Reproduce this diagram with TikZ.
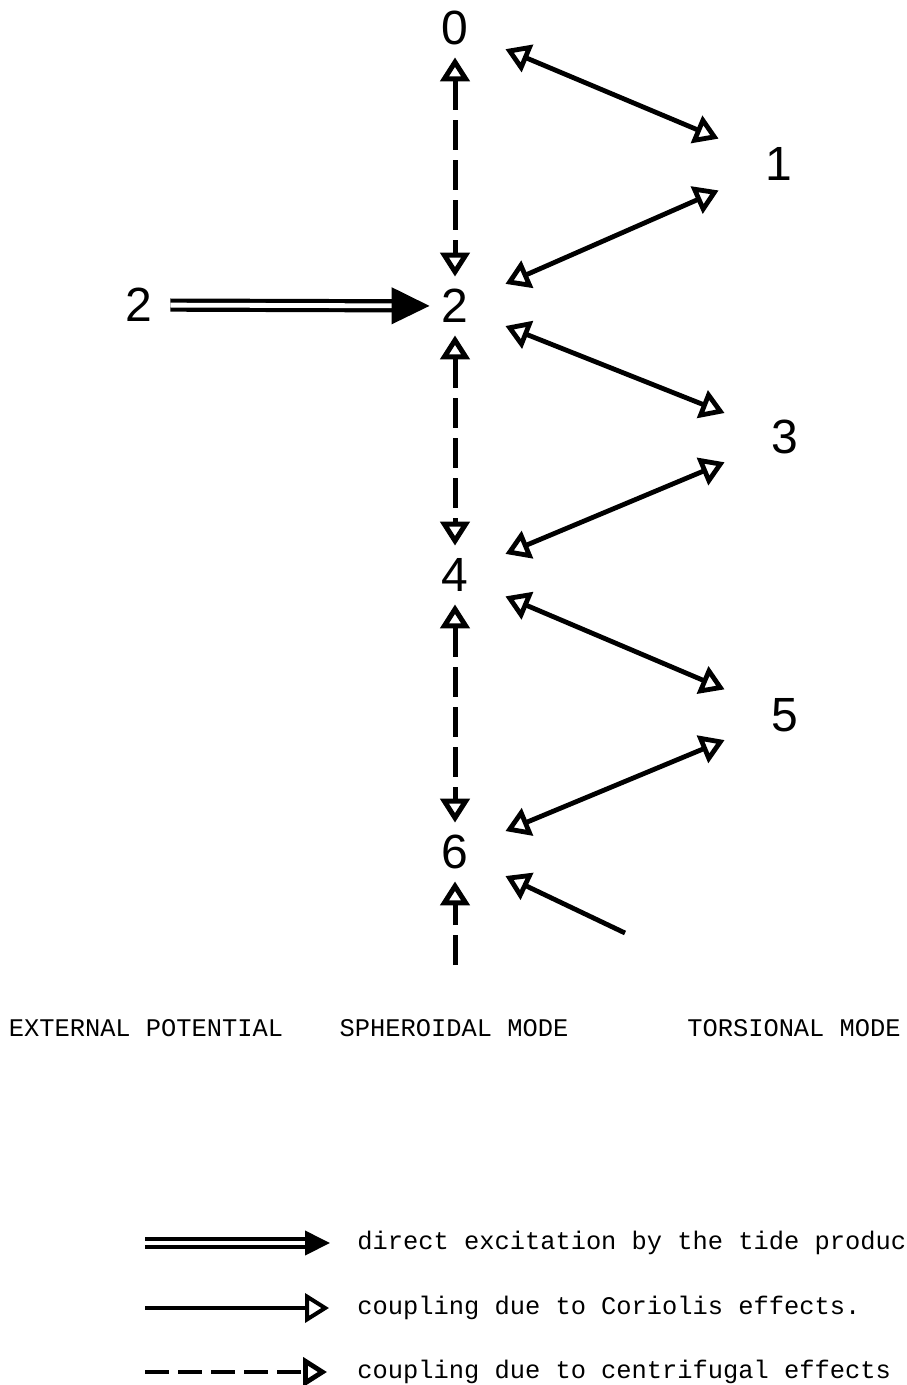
\documentclass[tikz,border=0pt]{standalone}
\usepackage{fontspec}
\setmainfont{Liberation Sans}
\setmonofont{Liberation Mono}
\usetikzlibrary{arrows.meta}

\begin{document}
\begin{tikzpicture}[
  x=0.5pt, y=-0.5pt,
  >={Triangle[open, length=12pt, width=14.5pt]},
  spheroidal/.style={minimum width=50pt, minimum height=29pt, inner sep=0pt,
                     font=\fontsize{24}{24}\selectfont},
  torsional/.style={spheroidal, minimum width=60pt},
  external/.style={spheroidal, minimum width=31pt},
  coriolis/.style={<->, line width=2.4pt},
  centrifugal/.style={<->, line width=2.5pt, dash pattern=on 15pt off 5pt},
  tide/.style={-{Triangle[length=19pt, width=18pt]}, double,
               line width=2.1pt, double distance=2.4pt},
  caption/.style={font=\ttfamily\fontsize{12.7}{15}\selectfont},
  legend/.style={caption, anchor=west, inner sep=0pt},
]
  \path[fill=white, use as bounding box] (0,0) rectangle (906,1385);

  % Spheroidal modes.
  \node[spheroidal] (s0) at (455,28) {0};
  \node[spheroidal] (s2) at (455,306) {2};
  \node[spheroidal] (s4) at (455,575) {4};
  \node[spheroidal] (s6) at (455,852) {6};
  \coordinate (sbelow) at (455,965);

  % Torsional modes.
  \node[torsional] (t1) at (779,164) {1};
  \node[torsional] (t3) at (785,437) {3};
  \node[torsional] (t5) at (785,715) {5};
  \coordinate (tbelow) at (625,933);

  % External potential and the tide.
  \node[external] (e2) at (139,305) {2};
  \draw[tide, shorten >=-12.5pt] (e2) -- (s2);

  % Couplings.
  \foreach \a/\b in {s0/s2, s2/s4, s4/s6}
    \draw[centrifugal] (\a) -- (\b);
  \draw[centrifugal, ->] (sbelow) -- (s6);
  \foreach \a/\b in {s0/t1, s2/t1, s2/t3, s4/t3, s4/t5, s6/t5}
    \draw[coriolis] (\a) -- (\b);
  \draw[coriolis, ->] (tbelow) -- (s6);

  % Column captions.
  \node[caption] (extcap) at (146,1028) {EXTERNAL POTENTIAL};
  \node[caption] (sphcap) at (454,1028) {SPHEROIDAL MODE};
  \node[caption] (torcap) at (794,1028) {TORSIONAL MODE};

  % Legend.
  \node[legend] (ltide) at (357,1243) {direct excitation by the tide produc};
  \node[legend] (lcor) at (357,1308) {coupling due to Coriolis effects.};
  \node[legend] (lcen) at (357,1372) {coupling due to centrifugal effects};
  \coordinate (ltidestart) at (145,1243);
  \coordinate (lcorstart) at (145,1308);
  \coordinate (lcenstart) at (145,1372);
  \draw[-{Triangle[length=12.5pt, width=12pt]}, double, line width=2pt,
        double distance=2pt, shorten >=13.5pt] (ltidestart) -- (ltide.west);
  \draw[->, line width=2pt, shorten >=14pt] (lcorstart) -- (lcor.west);
  \draw[->, line width=2.4pt, dash pattern=on 12pt off 4.5pt,
        shorten >=15pt] (lcenstart) -- (lcen.west);

\end{tikzpicture}
\end{document}
